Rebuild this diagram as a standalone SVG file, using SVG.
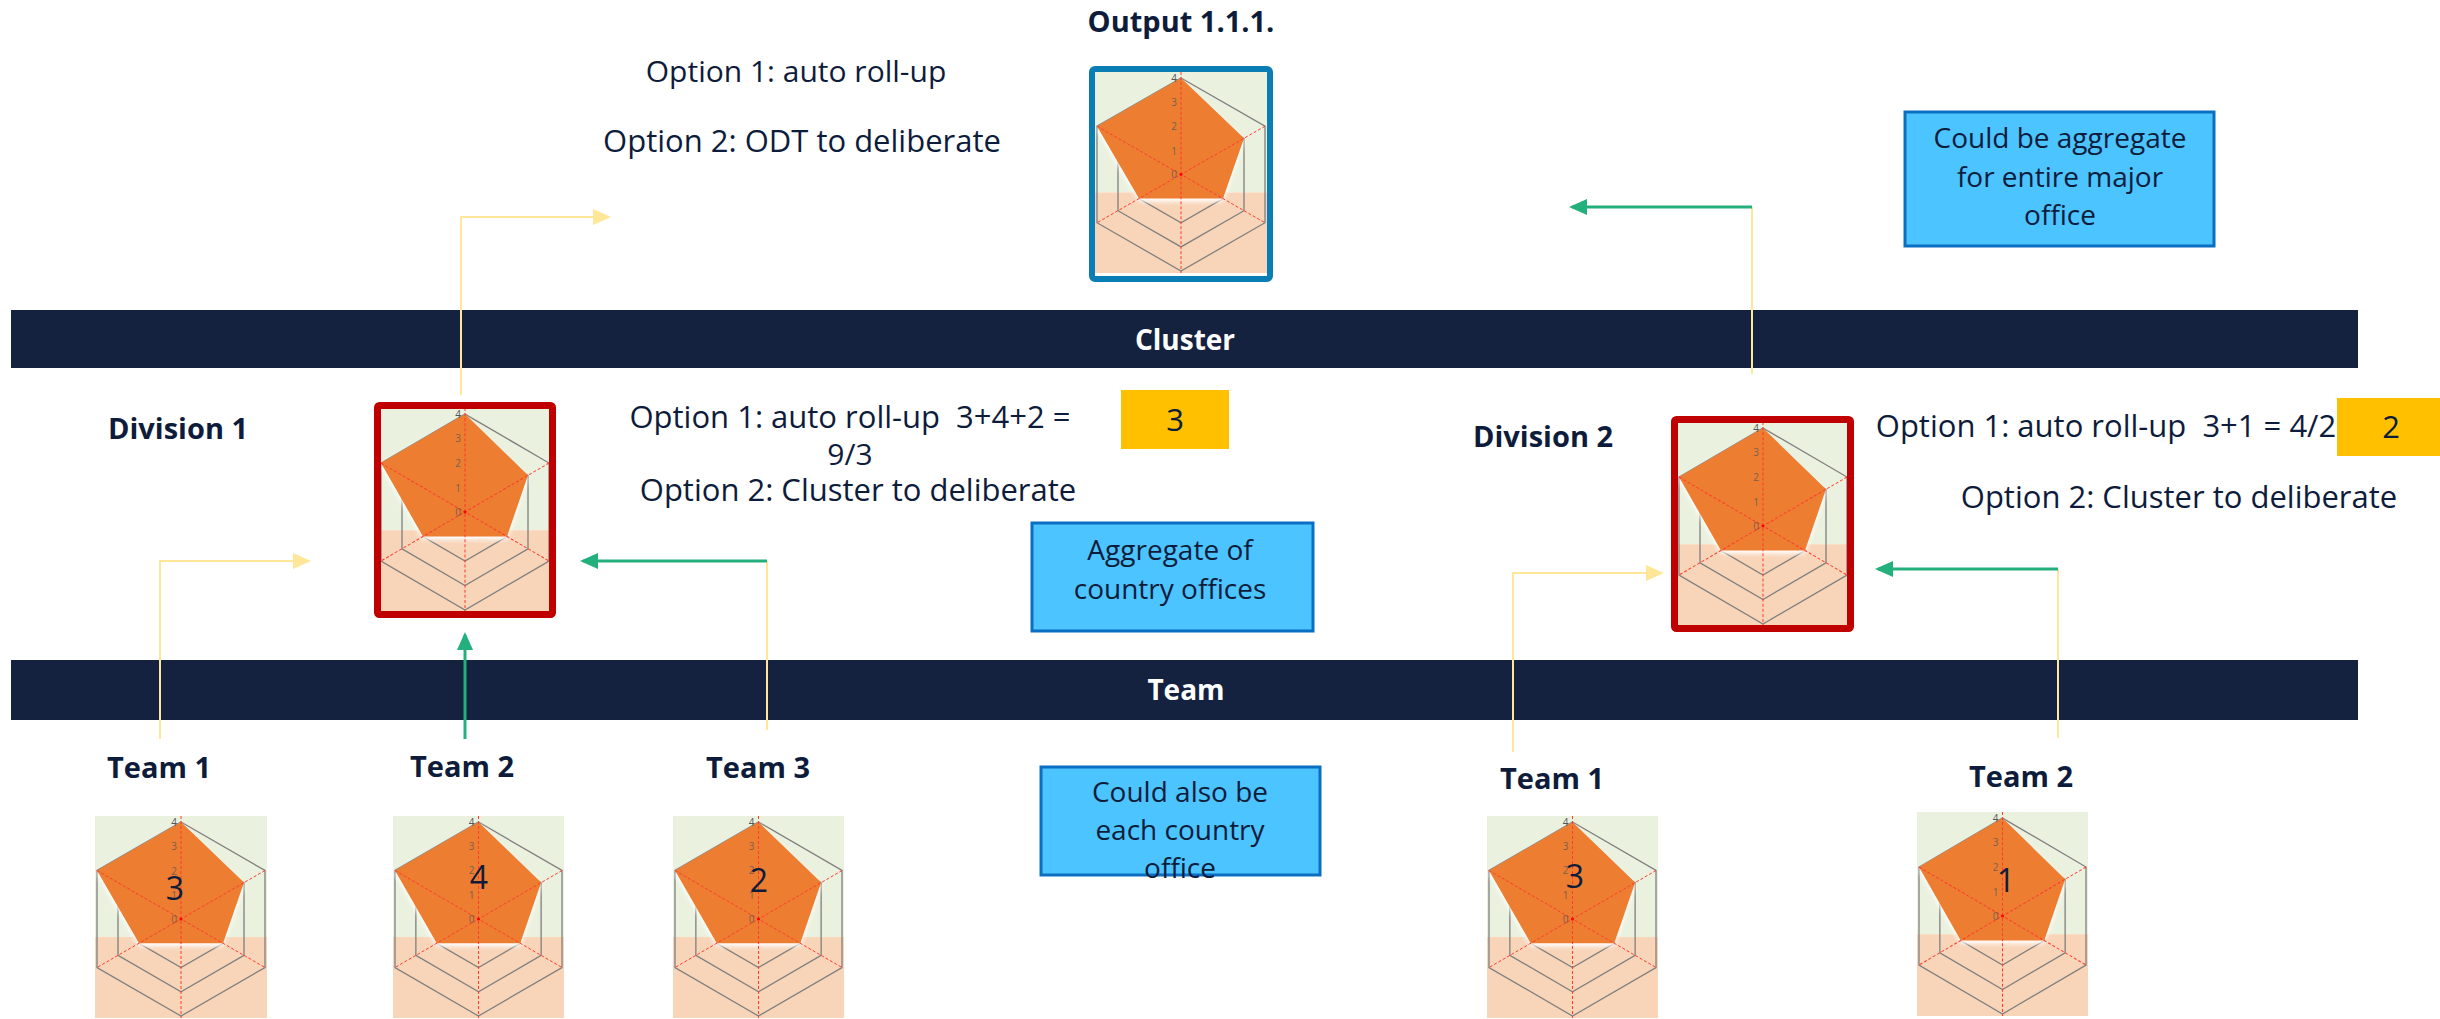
<svg xmlns="http://www.w3.org/2000/svg" width="2440" height="1019" viewBox="0 0 2440 1019">
<style>
.t{font-family:"Open Sans","Noto Sans","DejaVu Sans",sans-serif;fill:#0E1C3B}
.opt{font-size:31px}
.opt2{font-size:30px}
.lbl{font-size:29px;font-weight:700}
.bar{fill:#14223F}
.bartxt{font-size:28px;font-weight:700;fill:#FFFFFF}
.note{fill:#4BC4FF;stroke:#0A6FC2;stroke-width:3}
.notet{font-size:28px}
.gold{fill:#FFC000}
.num{font-size:32px}
.yl{fill:none;stroke:#FFE699;stroke-width:2}
.gl{fill:none;stroke:#23B07D;stroke-width:3}
.c{text-anchor:middle}
</style>
<defs>
<filter id="glow" x="-20%" y="-20%" width="140%" height="140%">
<feGaussianBlur stdDeviation="2"/>
</filter>
<marker id="ay" markerUnits="userSpaceOnUse" markerWidth="18" markerHeight="16" refX="15" refY="8" orient="auto">
<path d="M0,0 L18,8 L0,16 z" fill="#FFE699"/>
</marker>
<marker id="ag" markerUnits="userSpaceOnUse" markerWidth="18" markerHeight="16" refX="15" refY="8" orient="auto">
<path d="M0,0 L18,8 L0,16 z" fill="#23B07D"/>
</marker>
<symbol id="radar" viewBox="0 0 172 202" preserveAspectRatio="none">
<rect width="172" height="121" fill="#EBF1DF"/>
<rect y="121" width="172" height="81" fill="#F8D5B9"/>
<g fill="none" stroke="#7F7F7F" stroke-width="1.3">
<polygon points="86,6 170,54.5 170,151.5 86,200 2,151.5 2,54.5"/>
<polygon points="86,30.25 149,66.6 149,139.4 86,175.75 23,139.4 23,66.6"/>
<polygon points="86,54.5 128,78.75 128,127.25 86,151.5 44,127.25 44,78.75"/>
<polygon points="86,78.75 107,90.9 107,115.1 86,127.25 65,115.1 65,90.9"/>
</g>
<polygon points="86,6 149,66.6 128,127.25 44,127.25 2,54.5" fill="#FFFFFF" transform="translate(0,3)" filter="url(#glow)"/>
<polygon points="86,6 149,66.6 128,127.25 44,127.25 2,54.5" fill="#ED7D31"/>
<g stroke="#FF3B2F" stroke-width="1" stroke-dasharray="3 2">
<line x1="86" y1="0" x2="86" y2="202"/>
<line x1="2" y1="54.5" x2="170" y2="151.5"/>
<line x1="170" y1="54.5" x2="2" y2="151.5"/>
</g>
<circle cx="86" cy="103" r="1.5" fill="#FF0000"/>
<g font-family="Open Sans,Noto Sans,sans-serif" font-size="10" fill="#7A6050" text-anchor="end">
<text x="82" y="107">0</text>
<text x="82" y="83">1</text>
<text x="82" y="58.5">2</text>
<text x="82" y="34">3</text>
<text x="82" y="10" fill="#555555">4</text>
</g>
</symbol>
</defs>

<g id="cluster-bar">
<rect class="bar" x="11" y="310" width="2347" height="58"/>
<text class="t bartxt c" x="1185" y="350">Cluster</text>
</g>
<g id="team-bar">
<rect class="bar" x="11" y="660" width="2347" height="60"/>
<text class="t bartxt c" x="1186" y="700">Team</text>
</g>

<g id="output">
<text class="t lbl c" x="1181" y="32">Output 1.1.1.</text>
<use href="#radar" x="1095" y="72" width="172" height="201"/>
<rect x="1092" y="69" width="178" height="210" rx="3" fill="none" stroke="#0B7DB5" stroke-width="6"/>
</g>
<g id="output-options">
<text class="t opt2 c" x="796" y="82">Option 1: auto roll-up</text>
<text class="t opt c" x="802" y="152">Option 2: ODT to deliberate</text>
</g>
<g id="note-major-office">
<rect class="note" x="1905" y="112" width="309" height="134"/>
<text class="t notet c" x="2060" y="148">Could be aggregate</text>
<text class="t notet c" x="2060" y="187">for entire major</text>
<text class="t notet c" x="2060" y="225">office</text>
</g>

<g id="division1">
<text class="t lbl" x="108" y="439">Division 1</text>
<use href="#radar" x="379" y="408" width="172" height="204"/>
<rect x="377.5" y="405.5" width="175" height="209" rx="2" fill="none" stroke="#C00000" stroke-width="7"/>
</g>
<g id="division1-options">
<text class="t opt c" x="850" y="428" style="white-space:pre">Option 1: auto roll-up  3+4+2 =</text>
<text class="t opt2 c" x="850" y="465">9/3</text>
<text class="t opt c" x="858" y="501">Option 2: Cluster to deliberate</text>
</g>
<g id="division1-score">
<rect class="gold" x="1121" y="390" width="108" height="59"/>
<text class="t opt c" x="1175" y="431">3</text>
</g>
<g id="note-country-offices">
<rect class="note" x="1032" y="523" width="281" height="108"/>
<text class="t notet c" x="1170" y="560">Aggregate of</text>
<text class="t notet c" x="1170" y="599">country offices</text>
</g>

<g id="division2">
<text class="t lbl" x="1473" y="447">Division 2</text>
<use href="#radar" x="1677" y="422" width="172" height="204"/>
<rect x="1674.5" y="419.5" width="176" height="209" rx="2" fill="none" stroke="#C00000" stroke-width="7"/>
</g>
<g id="division2-options">
<text class="t opt c" x="2106" y="437" style="white-space:pre">Option 1: auto roll-up  3+1 = 4/2</text>
<text class="t opt c" x="2179" y="508">Option 2: Cluster to deliberate</text>
</g>
<g id="division2-score">
<rect class="gold" x="2337" y="398" width="103" height="58"/>
<text class="t opt c" x="2391" y="438">2</text>
</g>

<g id="note-each-country">
<rect class="note" x="1041" y="767" width="279" height="108"/>
<text class="t notet c" x="1180" y="802">Could also be</text>
<text class="t notet c" x="1180" y="840">each country</text>
<text class="t notet c" x="1180" y="878">office</text>
</g>

<g id="team1">
<text class="t lbl" x="107" y="778">Team 1</text>
<use href="#radar" x="95" y="816" width="172" height="202"/>
<text class="t num c" x="175" y="900">3</text>
</g>
<g id="team2">
<text class="t lbl" x="410" y="777">Team 2</text>
<use href="#radar" x="393" y="816" width="171" height="202"/>
<text class="t num c" x="479" y="889">4</text>
</g>
<g id="team3">
<text class="t lbl" x="706" y="778">Team 3</text>
<use href="#radar" x="673" y="816" width="171" height="202"/>
<text class="t num c" x="759" y="892">2</text>
</g>
<g id="team1-right">
<text class="t lbl" x="1500" y="789">Team 1</text>
<use href="#radar" x="1487" y="816" width="171" height="202"/>
<text class="t num c" x="1575" y="888">3</text>
</g>
<g id="team2-right">
<text class="t lbl" x="1969" y="787">Team 2</text>
<use href="#radar" x="1917" y="812" width="171" height="204"/>
<text class="t num c" x="2006" y="892">1</text>
</g>

<g id="connectors">
<polyline class="yl" points="461,395 461,217 608,217" marker-end="url(#ay)"/>
<polyline class="yl" points="1752,374 1752,207"/>
<line class="gl" x1="1752" y1="207" x2="1572" y2="207" marker-end="url(#ag)"/>
<polyline class="yl" points="160,739 160,561 308,561" marker-end="url(#ay)"/>
<line class="gl" x1="465" y1="739" x2="465" y2="635" marker-end="url(#ag)"/>
<polyline class="yl" points="767,730 767,561"/>
<line class="gl" x1="767" y1="561" x2="583" y2="561" marker-end="url(#ag)"/>
<polyline class="yl" points="1513,752 1513,573 1661,573" marker-end="url(#ay)"/>
<polyline class="yl" points="2058,738 2058,569"/>
<line class="gl" x1="2058" y1="569" x2="1878" y2="569" marker-end="url(#ag)"/>
</g>
</svg>
